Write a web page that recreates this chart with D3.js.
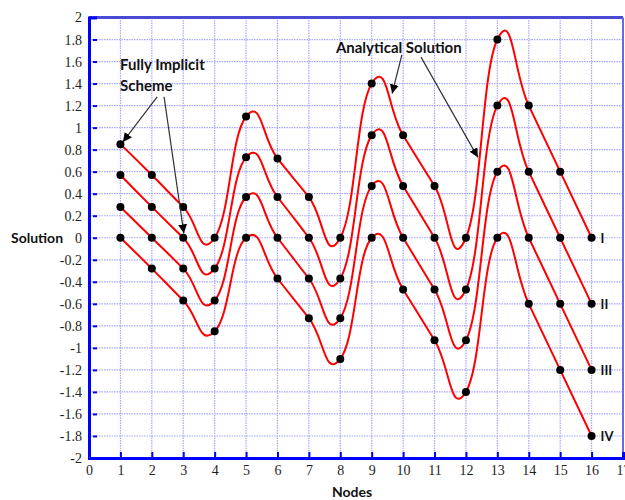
<!DOCTYPE html>
<html>
<head>
<meta charset="utf-8">
<script src="https://cdn.jsdelivr.net/npm/d3@7"></script>
<style>
  body { margin: 0; background: #fff; }
  svg { display: block; }
</style>
</head>
<body>
<svg id="chart" width="625" height="500"></svg>
<script>
// nodes 1..16
var nodes = [1, 2, 3, 4, 5, 6, 7, 8, 9, 10, 11, 12, 13, 14, 15, 16];

var seriesNames = ['I', 'II', 'III', 'IV'];
var seriesI   = [0.85, 0.57, 0.28, 0, 1.1, 0.72, 0.37, 0, 1.4, 0.93, 0.47, 0, 1.8, 1.2, 0.6, 0];
var seriesII  = [0.57, 0.28, 0, -0.28, 0.73, 0.37, 0, -0.37, 0.93, 0.47, 0, -0.47, 1.2, 0.6, 0, -0.6];
var seriesIII = [0.28, 0, -0.28, -0.57, 0.37, 0, -0.37, -0.73, 0.47, 0, -0.47, -0.93, 0.6, 0, -0.6, -1.2];
var seriesIV  = [0, -0.28, -0.57, -0.85, 0, -0.37, -0.73, -1.1, 0, -0.47, -0.93, -1.4, 0, -0.6, -1.2, -1.8];

var xTicks = d3.range(0, 18);
var yTicks = d3.range(-10, 11).map(function (d) { return d / 5; });

// annotations in data units
var labels = [
  { text: 'Fully Implicit', x: 0.99, y: 1.525 },
  { text: 'Scheme', x: 0.99, y: 1.335 },
  { text: 'Analytical Solution', x: 7.86, y: 1.68 }
];
var arrows = [
  { x1: 2.17, y1: 1.28, x2: 1.08, y2: 0.87 },
  { x1: 2.39, y1: 1.28, x2: 3.02, y2: 0.04 },
  { x1: 9.96, y1: 1.66, x2: 9.65, y2: 1.31 },
  { x1: 10.57, y1: 1.64, x2: 12.38, y2: 0.73 }
];

var allSeries = [seriesI, seriesII, seriesIII, seriesIV];

(function () {
  var svg = d3.select('#chart');
  var plotLeft = 89, plotRight = 623, plotTop = 17.5, plotBottom = 458;

  var x = d3.scaleLinear().domain([0, 17]).range([plotLeft, plotRight]);
  var y = d3.scaleLinear().domain([-2, 2]).range([plotBottom, plotTop]);

  function fmt(d) {
    return String(Math.round(d * 10) / 10);
  }

  // grid
  var grid = svg.append('g').attr('class', 'grid');
  grid.selectAll('line.v')
    .data(xTicks.slice(1, 17))
    .enter().append('line')
    .attr('class', 'v')
    .attr('x1', function (d) { return x(d); })
    .attr('x2', function (d) { return x(d); })
    .attr('y1', plotTop)
    .attr('y2', plotBottom)
    .style('stroke', '#a6a6ff')
    .style('stroke-width', 1.2)
    .style('stroke-dasharray', '1.5,1');

  grid.selectAll('line.h')
    .data(yTicks.slice(1, 20))
    .enter().append('line')
    .attr('class', 'h')
    .attr('x1', plotLeft)
    .attr('x2', plotRight)
    .attr('y1', function (d) { return y(d); })
    .attr('y2', function (d) { return y(d); })
    .style('stroke', '#a6a6ff')
    .style('stroke-width', 1.2)
    .style('stroke-dasharray', '1.5,1');

  // frame: top and right
  svg.append('line')
    .attr('x1', plotLeft).attr('x2', plotRight)
    .attr('y1', y(2)).attr('y2', y(2))
    .style('stroke', '#4a4ad6').style('stroke-width', 3);
  svg.append('line')
    .attr('x1', x(17)).attr('x2', x(17))
    .attr('y1', plotTop).attr('y2', plotBottom)
    .style('stroke', '#6a6ae0').style('stroke-width', 2);

  // axes
  var yAxis = d3.axisLeft(y).tickValues(yTicks).tickFormat(fmt).tickSize(-8).tickPadding(7);
  var xAxis = d3.axisBottom(x).tickValues(xTicks).tickFormat(fmt).tickSize(-6).tickPadding(7);

  var gy = svg.append('g').attr('transform', 'translate(' + plotLeft + ',0)').call(yAxis);
  var gx = svg.append('g').attr('transform', 'translate(0,' + plotBottom + ')').call(xAxis);

  [gy, gx].forEach(function (g) {
    g.select('.domain').style('stroke', '#0000ff').style('stroke-width', 3);
    g.selectAll('.tick line').style('stroke', '#0000ff').style('stroke-width', 2);
    g.selectAll('.tick text')
      .style('font-family', '"Liberation Serif", serif')
      .style('font-size', '14px')
      .style('fill', '#1e1e1e');
  });
  gy.selectAll('.tick line').attr('x1', 4);
  gx.selectAll('.tick line').attr('y1', 2);

  // analytical curves
  var line = d3.line()
    .x(function (d, i) { return x(nodes[i]); })
    .y(function (d) { return y(d); })
    .curve(d3.curveCardinal.tension(-0.5));

  svg.selectAll('path.curve')
    .data(allSeries)
    .enter().append('path')
    .attr('class', 'curve')
    .attr('d', line)
    .style('fill', 'none')
    .style('stroke', '#ff0000')
    .style('stroke-width', 2);

  // fully implicit points
  allSeries.forEach(function (s) {
    svg.selectAll(null)
      .data(s)
      .enter().append('circle')
      .attr('cx', function (d, i) { return x(nodes[i]); })
      .attr('cy', function (d) { return y(d); })
      .attr('r', 4)
      .style('fill', '#000');
  });

  // series labels at last node
  svg.selectAll('text.sname')
    .data(allSeries)
    .enter().append('text')
    .attr('class', 'sname')
    .attr('x', function () { return x(nodes[nodes.length - 1]) + 9; })
    .attr('y', function (s) { return y(s[s.length - 1]) + 5; })
    .style('font-family', 'Lato, sans-serif')
    .style('font-weight', 'bold')
    .style('font-size', '13px')
    .style('fill', '#111')
    .text(function (s, i) { return seriesNames[i]; });

  // axis titles
  svg.append('text')
    .attr('x', 11).attr('y', 243)
    .style('font-family', 'Lato, sans-serif')
    .style('font-weight', 'bold')
    .style('font-size', '14px')
    .style('fill', '#111')
    .text('Solution');

  svg.append('text')
    .attr('x', 352).attr('y', 497)
    .attr('text-anchor', 'middle')
    .style('font-family', 'Lato, sans-serif')
    .style('font-weight', 'bold')
    .style('font-size', '14px')
    .style('fill', '#111')
    .text('Nodes');

  // annotations
  svg.append('defs').append('marker')
    .attr('id', 'arrow')
    .attr('viewBox', '0 0 10 10')
    .attr('refX', 10).attr('refY', 5)
    .attr('markerWidth', 9).attr('markerHeight', 9)
    .attr('markerUnits', 'userSpaceOnUse')
    .attr('orient', 'auto')
    .append('path')
    .attr('d', 'M0,0L10,5L0,10z')
    .style('fill', '#000');

  svg.selectAll('line.arrow')
    .data(arrows)
    .enter().append('line')
    .attr('class', 'arrow')
    .attr('x1', function (d) { return x(d.x1); })
    .attr('y1', function (d) { return y(d.y1); })
    .attr('x2', function (d) { return x(d.x2); })
    .attr('y2', function (d) { return y(d.y2); })
    .style('stroke', '#333')
    .style('stroke-width', 1.2)
    .attr('marker-end', 'url(#arrow)');

  svg.selectAll('text.note')
    .data(labels)
    .enter().append('text')
    .attr('class', 'note')
    .attr('x', function (d) { return x(d.x); })
    .attr('y', function (d) { return y(d.y); })
    .style('font-family', 'Lato, sans-serif')
    .style('font-weight', 'bold')
    .style('font-size', '15px')
    .style('fill', '#111')
    .text(function (d) { return d.text; });
})();
</script>
</body>
</html>
